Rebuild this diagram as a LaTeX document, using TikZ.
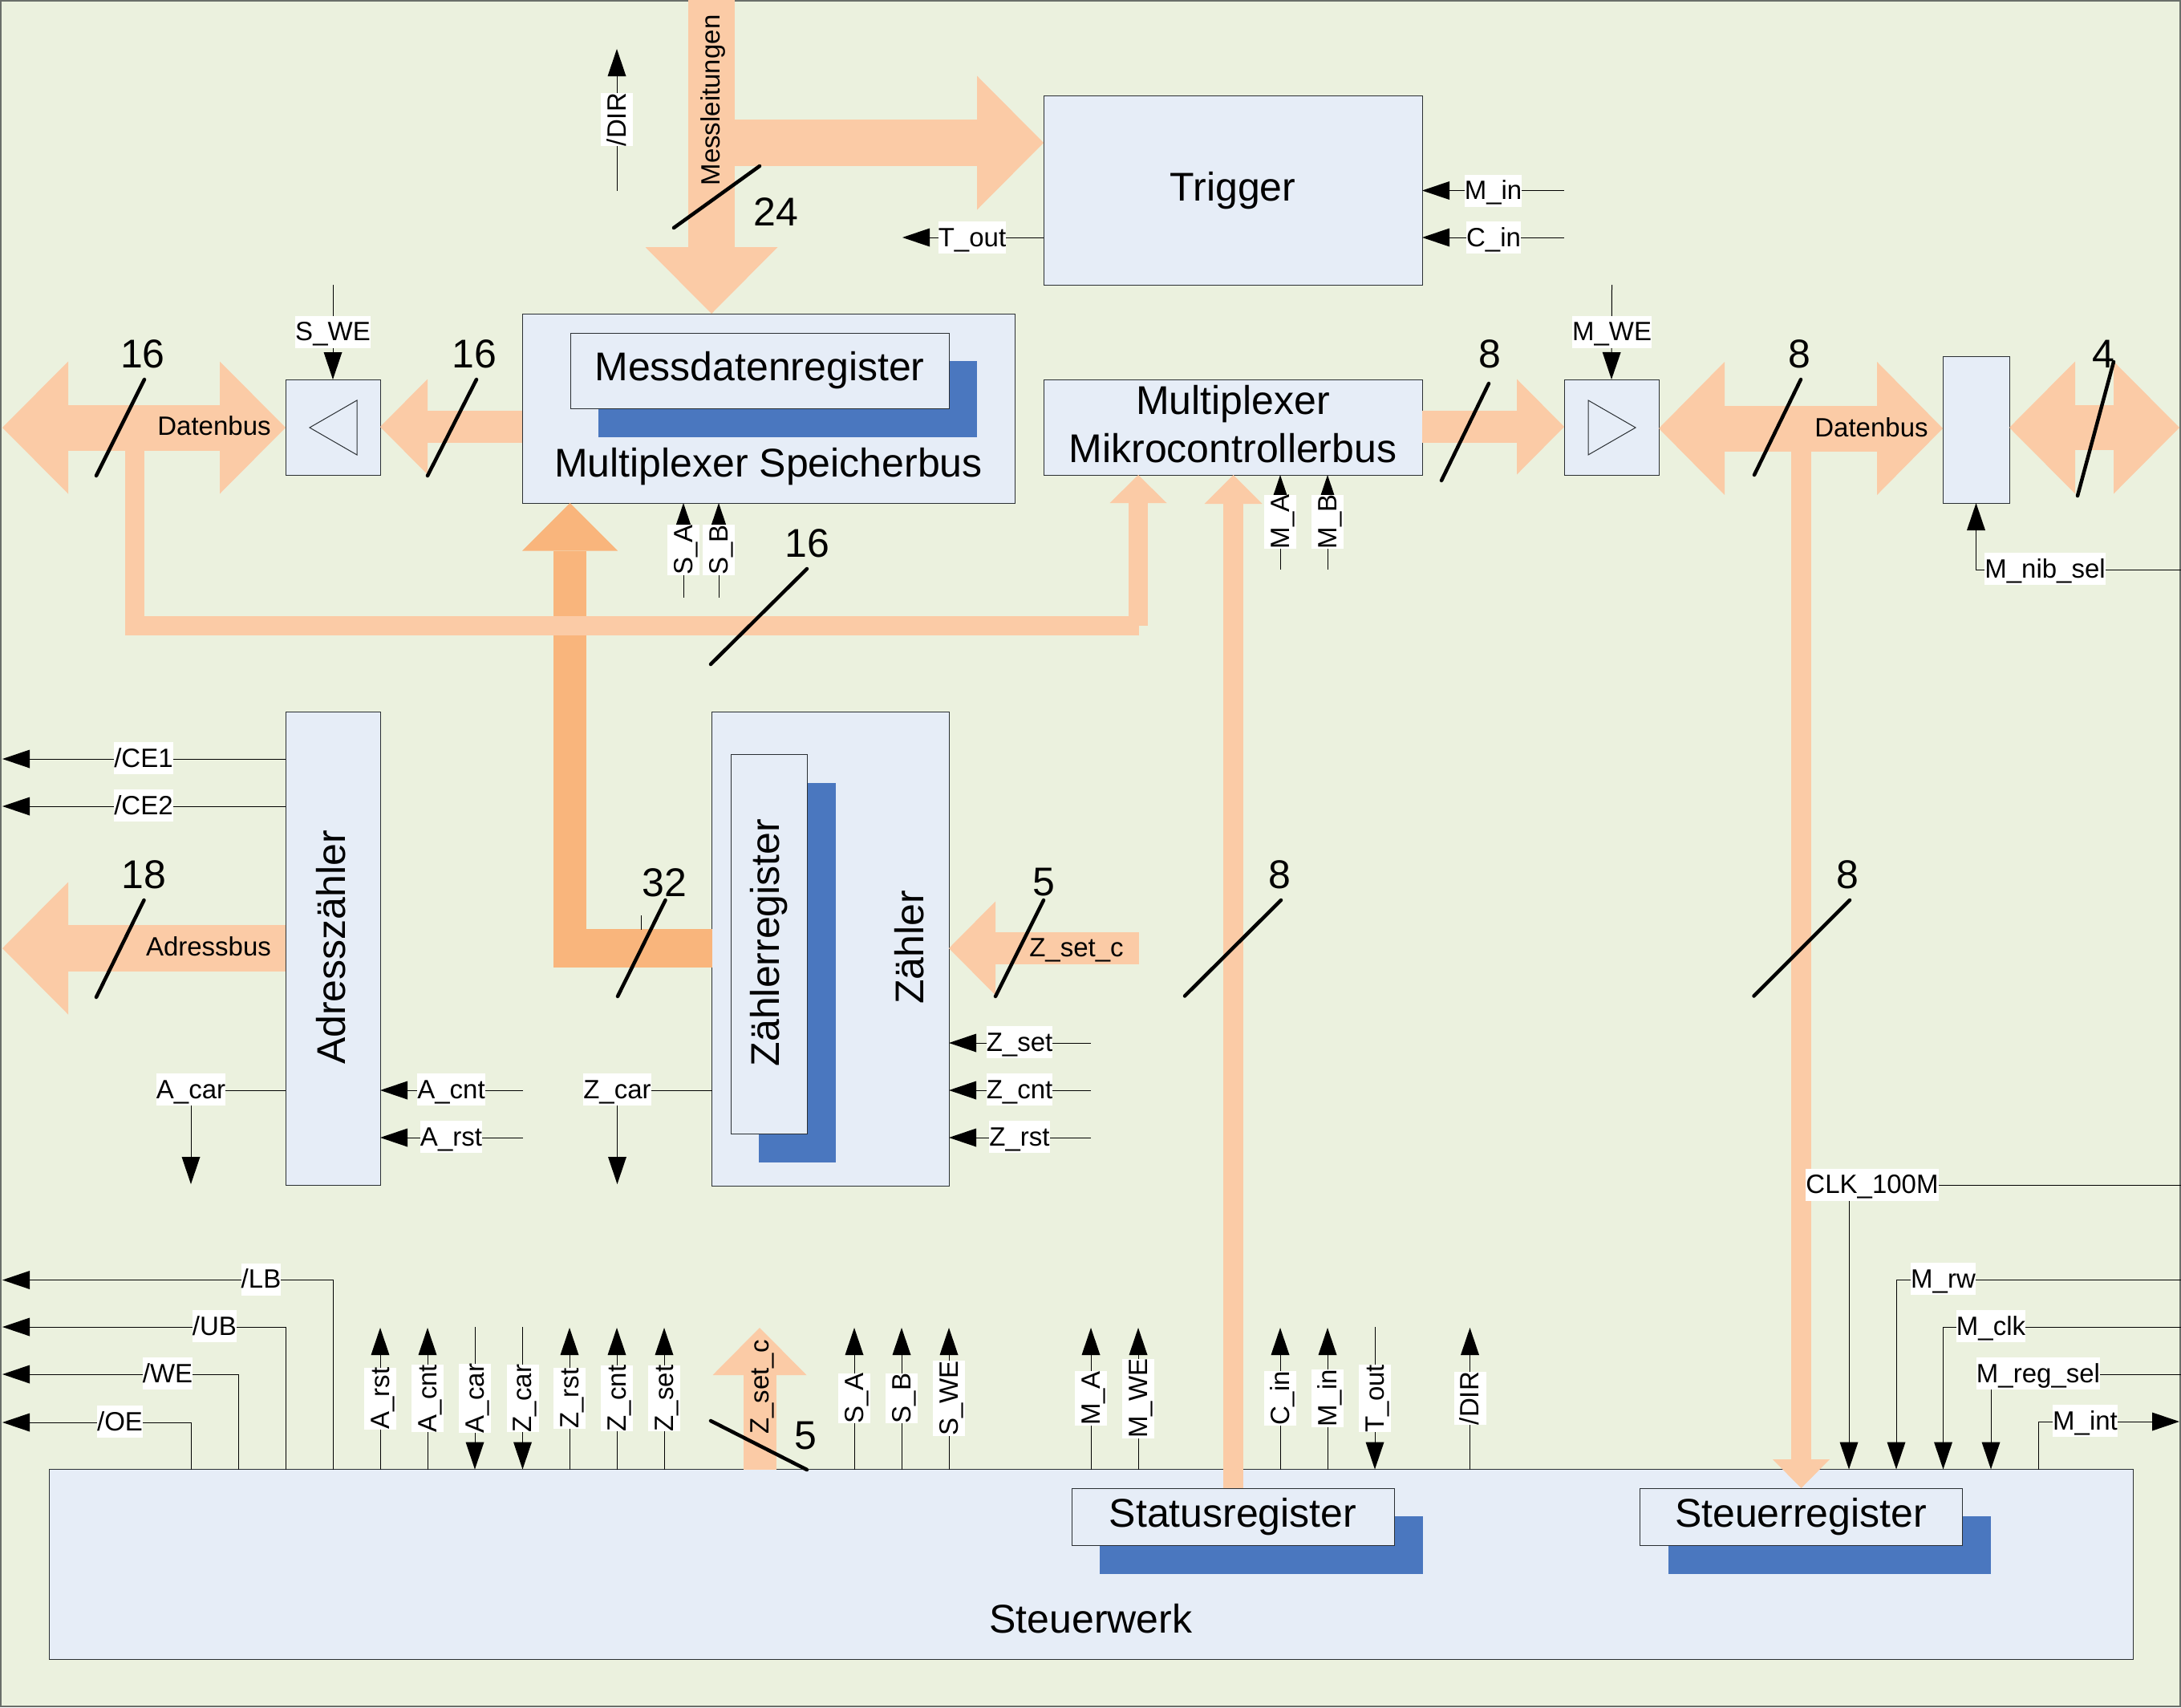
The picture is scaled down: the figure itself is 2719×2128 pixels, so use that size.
\documentclass[tikz,border=0pt]{standalone}
\usepackage{fontspec}
\setmainfont{Liberation Sans}
\usetikzlibrary{arrows.meta}
\definecolor{bgc}{HTML}{EBF1DE}
\definecolor{boxc}{HTML}{E6EDF7}
\definecolor{shadc}{HTML}{4A77BF}
\definecolor{busc}{HTML}{FBCBA6}
\definecolor{busd}{HTML}{F9B57C}
\definecolor{framec}{HTML}{6A6F6A}
\definecolor{edgec}{HTML}{2A2F33}
\tikzset{
  x=1pt,y=-1pt,
  blk/.style={draw=edgec,fill=boxc,line width=1pt,inner sep=0pt,outer sep=0pt,align=center,
    font=\fontsize{50}{60}\selectfont},
  big/.style={inner sep=0pt,outer sep=0pt,align=center,font=\fontsize{50}{60}\selectfont},
  num/.style={inner sep=0pt,outer sep=0pt,font=\fontsize{50}{60}\selectfont},
  small/.style={inner sep=0pt,outer sep=0pt,text height=31pt,text depth=9pt,font=\fontsize{33}{40}\selectfont},
  lbl/.style={small,fill=white},
  sig/.style={draw=black,line width=1pt,-{Triangle[length=34pt,width=23pt,line width=0pt]}},
  thinline/.style={draw=black,line width=1pt},
  tick/.style={draw=black,line width=4.5pt,line cap=round},
  bus/.style n args={3}{draw=busc,line width=#1pt,-{Triangle[length=#2pt,width=#3pt,line width=0pt]}},
  dbus/.style n args={3}{draw=busc,line width=#1pt,{Triangle[length=#2pt,width=#3pt,line width=0pt]}-{Triangle[length=#2pt,width=#3pt,line width=0pt]}},
  plainbus/.style={draw=busc,line width=#1pt,line join=miter},
}
\newcommand\bx[6]{\node[blk,name=#1,minimum width={(#4-#2)*1pt},minimum height={(#5-#3)*1pt}] at ({(#2+#4)/2},{(#3+#5)/2}) {#6};}
\newcommand\shad[4]{\fill[shadc] (#1,#2) rectangle (#3,#4);}
\newcommand\hl[4]{\node[lbl,name=#1] at (#2,#3) {#4};}
\newcommand\vl[4]{\node[lbl,rotate=90,name=#1] at (#2,#3) {#4};}
\newcommand\tk[4]{\coordinate (tkA) at (#1,#2); \coordinate (tkB) at (#3,#4); \draw[tick] (tkA) -- (tkB);}
\newcommand\upsig[2]{\coordinate (#1) at (#2,1655); \draw[sig] (steuer.north -| #1) -- (#1);}
\newcommand\downsig[2]{\coordinate (#1) at (#2,1654); \draw[sig] (#1) -- (steuer.north -| #1);}
\newcommand\lsig[3]{\coordinate (#1) at (3,#3); \coordinate (#1B) at (#2,0); \draw[sig] (steuer.north -| #1B) |- (#1);}
\newcommand\rsig[3]{\coordinate (#1) at (2719,#2); \coordinate (#1B) at (#3,1831.5); \draw[sig] (#1) -| (#1B);}
\begin{document}
\begin{tikzpicture}
\useasboundingbox (0,0) rectangle (2719,2128);
\draw[fill=bgc,draw=framec,line width=2.5pt] (1,1) rectangle (2718,2127);

% blocks
\bx{steuer}{61}{1831.5}{2659}{2068}{}
\bx{trigger}{1301}{119}{1773}{355.5}{Trigger}
\bx{muxs}{651}{391}{1265}{627}{}
\shad{746}{450}{1218}{545}
\bx{messreg}{711}{415}{1183}{509}{Messdatenregister}
\bx{buf1}{356}{473}{474}{592}{}
\bx{mux2}{1301}{473}{1773}{592}{}
\bx{buf2}{1950}{473}{2068}{592}{}
\bx{nibbox}{2422}{444}{2505}{627}{}
\bx{adr}{356}{887}{474}{1477.5}{}
\bx{zaehler}{887.5}{887}{1183}{1478}{}
\shad{946}{975.5}{1042}{1449}
\bx{zreg}{911}{940}{1006}{1413}{}
\shad{1371}{1890}{1774}{1962}
\bx{statreg}{1336}{1855}{1738}{1926}{Statusregister}
\shad{2080}{1890}{2482}{1962}
\bx{steureg}{2044}{1855}{2446}{1926}{Steuerregister}

\draw[draw=edgec,line width=1pt] (445,499) -- (445,567) -- (386,533) -- cycle;
\draw[draw=edgec,line width=1pt] (1980,499) -- (1980,567) -- (2039,533) -- cycle;

% dark bus 32
\coordinate (d32x) at (710.5,1206);
\draw[draw=busd,line width=41pt,-{Triangle[length=59.5pt,width=119pt,line width=0pt]}] (d32x) -- (muxs.south -| d32x);
\coordinate (d32y) at (690,1182);
\draw[draw=busd,line width=48pt] (zaehler.west |- d32y) -- (d32y);
\coordinate (t32a) at (799,1141); \coordinate (t32b) at (799,1159);
\draw[thinline] (t32a) -- (t32b);

% busses
\coordinate (msrc) at (887,0);
\draw[bus={58}{83}{165}] (msrc) -- (muxs.north -| msrc);
\coordinate (mbr) at (887,178);
\draw[bus={58}{83}{167}] (mbr) -- (trigger.west |- mbr);
\coordinate (dbL) at (3,533);
\draw[dbus={57}{82}{165}] (dbL) -- (buf1.west |- dbL);
\coordinate (m16) at (600,532);
\draw[bus={40}{59}{119}] (muxs.west |- m16) -- (buf1.east |- m16);
\coordinate (loopA) at (167.5,540);
\coordinate (loopB) at (1419.5,780);
\coordinate (loopC) at (1419,780);
\draw[plainbus=24] (loopA) |- (loopB);
\draw[bus={24}{35}{71}] (loopC) -- (mux2.south -| loopC);
\coordinate (vc) at (1537.5,1000);
\draw[bus={25}{36}{72}] (statreg.north -| vc) -- (mux2.south -| vc);
\coordinate (m8) at (1850,532);
\draw[bus={40}{59}{119}] (mux2.east |- m8) -- (buf2.west |- m8);
\coordinate (dbR) at (2200,534);
\draw[dbus={57}{82}{166}] (buf2.east |- dbR) -- (nibbox.west |- dbR);
\coordinate (vr) at (2245.5,534);
\draw[bus={25}{36}{71}] (vr) -- (steureg.north -| vr);
\coordinate (far) at (2717,533);
\draw[dbus={56}{82}{165}] (nibbox.east |- far) -- (far);
\coordinate (adrE) at (3,1182);
\draw[bus={58}{82}{165}] (adr.west |- adrE) -- (adrE);
\coordinate (zsc) at (1420,1182);
\draw[bus={40}{58}{117}] (zsc) -- (zaehler.east |- zsc);
\coordinate (zsv) at (947,1655);
\draw[bus={41}{59}{117}] (steuer.north -| zsv) -- (zsv);

% signals
\coordinate (dirA) at (769,237.5); \coordinate (dirB) at (769,61);
\draw[sig] (dirA) -- (dirB);
\coordinate (tout) at (1125,296);
\draw[sig] (trigger.west |- tout) -- (tout);
\coordinate (min) at (1950,237.5);
\draw[sig] (min) -- (trigger.east |- min);
\coordinate (cin) at (1950,296);
\draw[sig] (cin) -- (trigger.east |- cin);
\coordinate (swe) at (415,355);
\draw[sig] (swe) -- (buf1.north);
\coordinate (mwe) at (2009.5,355);
\draw[sig] (mwe) -- (buf2.north);
\coordinate (sa) at (852,745);
\draw[sig] (sa) -- (muxs.south -| sa);
\coordinate (sb) at (896,745);
\draw[sig] (sb) -- (muxs.south -| sb);
\coordinate (ma) at (1596,710);
\draw[sig] (ma) -- (mux2.south -| ma);
\coordinate (mb) at (1655,710);
\draw[sig] (mb) -- (mux2.south -| mb);
\coordinate (nib) at (2719,710);
\draw[sig] (nib) -| (nibbox.south);

\coordinate (ce1) at (3,946);
\draw[sig] (adr.west |- ce1) -- (ce1);
\coordinate (ce2) at (3,1005);
\draw[sig] (adr.west |- ce2) -- (ce2);
\coordinate (acE) at (238,1476); \coordinate (acM) at (238,1359);
\draw[sig] (adr.west |- acM) -- (acM) -- (acE);
\coordinate (zcE) at (769.5,1476); \coordinate (zcM) at (769.5,1359);
\draw[sig] (zaehler.west |- zcM) -- (zcM) -- (zcE);
\coordinate (acn) at (652,1359);
\draw[sig] (acn) -- (adr.east |- acn);
\coordinate (ars) at (652,1418);
\draw[sig] (ars) -- (adr.east |- ars);
\coordinate (zse) at (1360,1300);
\draw[sig] (zse) -- (zaehler.east |- zse);
\coordinate (zcn) at (1360,1359);
\draw[sig] (zcn) -- (zaehler.east |- zcn);
\coordinate (zrs) at (1360,1418);
\draw[sig] (zrs) -- (zaehler.east |- zrs);

\lsig{lb}{415}{1595.5}
\lsig{ub}{356.5}{1654}
\lsig{we}{297.5}{1713}
\lsig{oe}{238.5}{1773}

\upsig{s1}{474}
\upsig{s2}{533}
\downsig{s3}{592}
\downsig{s4}{651.5}
\upsig{s5}{710}
\upsig{s6}{769}
\upsig{s7}{828}
\upsig{s8}{1065}
\upsig{s9}{1124}
\upsig{s10}{1183}
\upsig{s11}{1360}
\upsig{s12}{1419}
\upsig{s13}{1596}
\upsig{s14}{1655}
\downsig{s15}{1714}
\upsig{s16}{1832.5}

\rsig{clk}{1477.5}{2305}
\rsig{mrw}{1595}{2364}
\rsig{mcl}{1654}{2422.5}
\rsig{mrs}{1713}{2482}
\coordinate (mintA) at (2541,0); \coordinate (mintB) at (2717,1772);
\draw[sig] (steuer.north -| mintA) |- (mintB);

% bus-width ticks
\tk{840}{284}{947}{207}
\tk{120}{593}{180}{473}
\tk{533}{593}{594}{473}
\tk{886}{828}{1006}{709}
\tk{1797}{599}{1856}{478}
\tk{2187}{592}{2245}{473}
\tk{2590}{618}{2635}{451}
\tk{120}{1243}{179.5}{1122}
\tk{770}{1242}{829.5}{1122}
\tk{1241}{1242}{1301}{1122}
\tk{1477}{1241.5}{1597}{1122}
\tk{2186.5}{1241.5}{2306}{1122}
\tk{886}{1771}{1006}{1832}

% numbers
\node[num,name=n24] at (967,264) {24};
\node[num,name=n16a] at (178,441) {16};
\node[num,name=n16b] at (591,441) {16};
\node[num,name=n16c] at (1006,677) {16};
\node[num,name=n8a] at (1857,441) {8};
\node[num,name=n8b] at (2243,441) {8};
\node[num,name=n4] at (2622,441) {4};
\node[num,name=n18] at (179.5,1090) {18};
\node[num,name=n32] at (828,1100) {32};
\node[num,name=n5a] at (1301,1100) {5};
\node[num,name=n8c] at (1595,1090) {8};
\node[num,name=n8d] at (2303,1090) {8};
\node[num,name=n5b] at (1004,1790) {5};

% block captions
\node[big,name=capS] at (958,582) {Multiplexer Speicherbus};
\node[big,name=capM] at (1537,529) {Multiplexer\\Mikrocontrollerbus};
\node[big,rotate=90,name=capA] at (413,1181) {Adresszähler};
\node[big,rotate=90,name=capZr] at (959,1175) {Zählerregister};
\node[big,rotate=90,name=capZ] at (1134,1181) {Zähler};
\node[big,name=capW] at (1360,2018) {Steuerwerk};

% bus captions
\node[small,name=db1] at (267,531) {Datenbus};
\node[small,name=db2] at (2333,533) {Datenbus};
\node[small,name=abus] at (260,1180) {Adressbus};
\node[small,name=zsch] at (1342,1181) {Z\_set\_c};
\node[small,rotate=90,name=zscv] at (947,1729) {Z\_set\_c};
\node[small,rotate=90,name=mess] at (886,125) {Messleitungen};

% signal labels
\hl{lTout}{1212}{296}{T\_out}
\hl{lMin}{1861.5}{237.5}{M\_in}
\hl{lCin}{1862}{296}{C\_in}
\hl{lSwe}{415}{413.5}{S\_WE}
\hl{lMwe}{2009.5}{413.5}{M\_WE}
\hl{lNib}{2549.5}{709}{M\_nib\_sel}
\hl{lCe1}{179}{945}{/CE1}
\hl{lCe2}{179}{1004}{/CE2}
\hl{lAcar}{238}{1358}{A\_car}
\hl{lAcnt}{562.5}{1358}{A\_cnt}
\hl{lArst}{562.5}{1417}{A\_rst}
\hl{lZcar}{769.5}{1358}{Z\_car}
\hl{lZset}{1271}{1299}{Z\_set}
\hl{lZcnt}{1271}{1358}{Z\_cnt}
\hl{lZrst}{1271}{1417}{Z\_rst}
\hl{lLb}{325.5}{1594.5}{/LB}
\hl{lUb}{267.5}{1653}{/UB}
\hl{lWe}{209}{1712}{/WE}
\hl{lOe}{149.5}{1772}{/OE}
\hl{lClk}{2334}{1476.5}{CLK\_100M}
\hl{lRw}{2422.5}{1594}{M\_rw}
\hl{lClkm}{2482}{1653}{M\_clk}
\hl{lRs}{2541}{1712}{M\_reg\_sel}
\hl{lInt}{2599.5}{1771}{M\_int}

\vl{vDir}{769}{149}{/DIR}
\vl{vSa}{852}{685.5}{S\_A}
\vl{vSb}{896}{685.5}{S\_B}
\vl{vMa}{1596}{650.5}{M\_A}
\vl{vMb}{1655}{650.5}{M\_B}

\vl{b1}{474}{1743}{A\_rst}
\vl{b2}{533}{1743}{A\_cnt}
\vl{b3}{592}{1743}{A\_car}
\vl{b4}{651.5}{1743}{Z\_car}
\vl{b5}{710}{1743}{Z\_rst}
\vl{b6}{769}{1743}{Z\_cnt}
\vl{b7}{828}{1743}{Z\_set}
\vl{b8}{1065}{1743}{S\_A}
\vl{b9}{1124}{1743}{S\_B}
\vl{b10}{1183}{1743}{S\_WE}
\vl{b11}{1360}{1743}{M\_A}
\vl{b12}{1419}{1743}{M\_WE}
\vl{b13}{1596}{1743}{C\_in}
\vl{b14}{1655}{1743}{M\_in}
\vl{b15}{1714}{1743}{T\_out}
\vl{b16}{1832.5}{1743}{/DIR}
\end{tikzpicture}
\end{document}
